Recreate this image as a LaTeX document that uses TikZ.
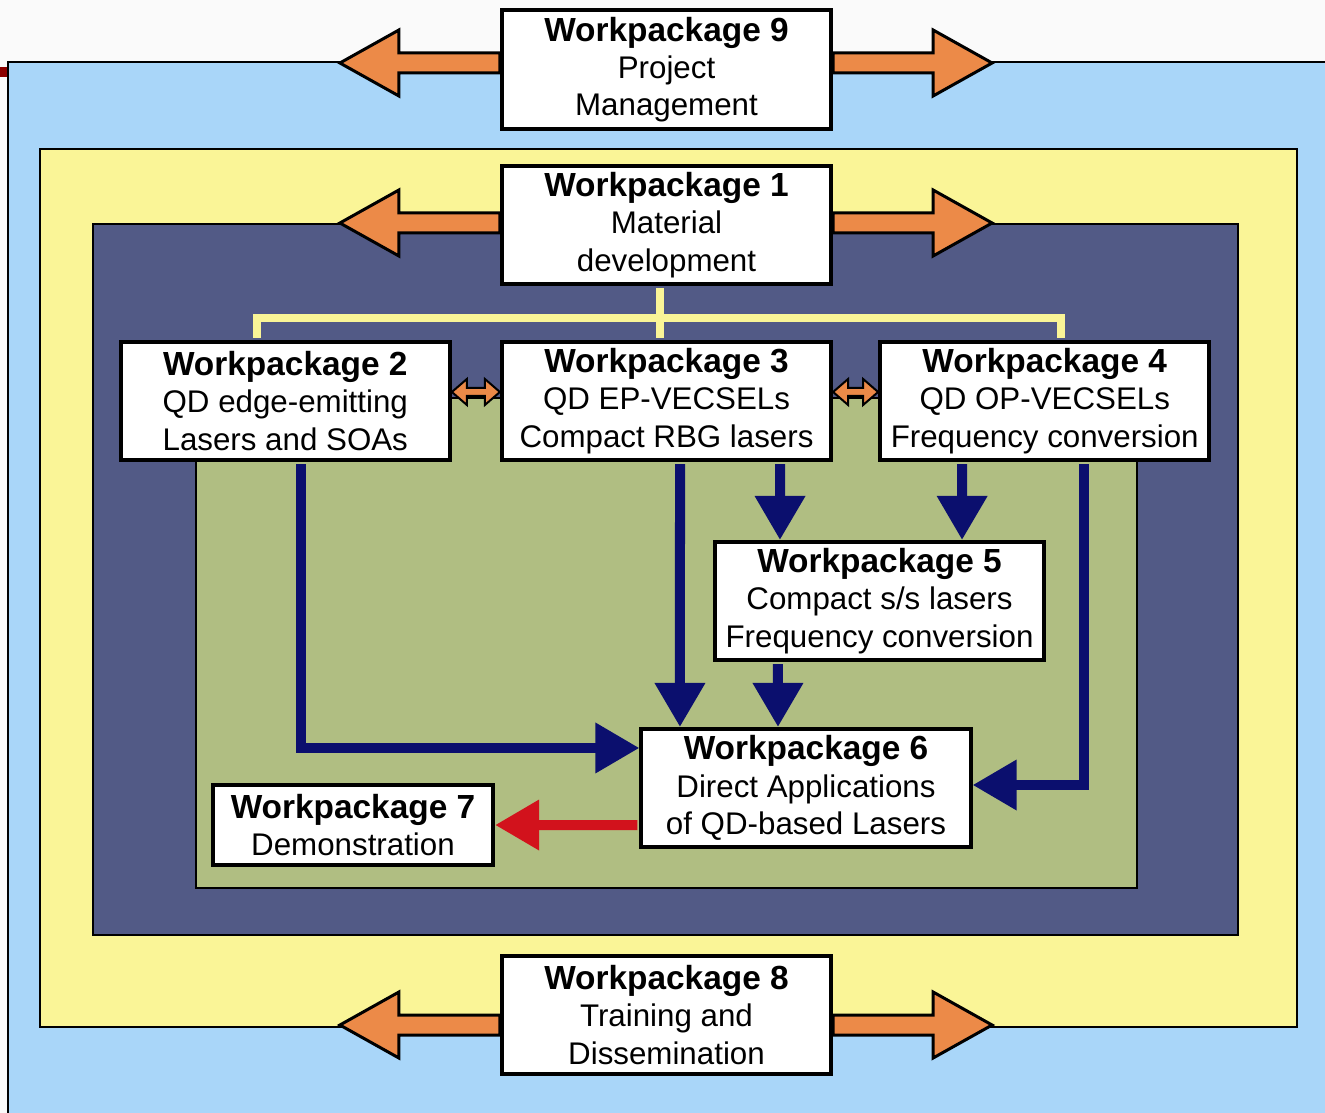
\documentclass[tikz,border=0pt]{standalone}
\usepackage{fontspec}
\setmainfont{Liberation Sans}
\usetikzlibrary{arrows.meta, positioning}
\definecolor{bgGray}{HTML}{FAFAFA}
\definecolor{skyBlue}{HTML}{A9D6F9}
\definecolor{paleYellow}{HTML}{FAF597}
\definecolor{slateBlue}{HTML}{525A86}
\definecolor{oliveGreen}{HTML}{B0BE82}
\definecolor{wpOrange}{HTML}{EC8A48}
\definecolor{navy}{HTML}{0B0F6E}
\definecolor{wpRed}{HTML}{D2121C}
\definecolor{darkRed}{HTML}{8B0000}
\tikzstyle{wpNode} = [rectangle, minimum width=3.29cm, minimum height=1.18cm, align=center, inner sep=1pt, draw=black, line width=0.04cm, fill=white, font=\fontsize{8.9}{10.6}\selectfont]
\tikzstyle{layer} = [draw=black, line width=0.02cm]
\tikzstyle{bigArrow} = [fill=wpOrange, draw=black, line width=0.03cm]
\tikzstyle{arrowB} = [line width=0.1cm, -{Triangle[length=0.44cm,width=0.48cm]}, draw=navy, shorten <=0.02cm]
\tikzstyle{arrowR} = [arrowB, draw=wpRed]
\tikzstyle{linkY} = [line width=0.08cm, draw=paleYellow, shorten <=0.02cm, shorten >=0.02cm]
\newcommand{\wpTitle}[1]{{\fontsize{9.5}{10.6}\selectfont\bfseries #1}}
\newcommand{\arrowLeft}[1]{\draw[bigArrow] (#1) ++(0,-10) -- ++(-101,0) -- ++(0,-23) -- ++(-59,33) -- ++(59,33) -- ++(0,-23) -- ++(101,0) -- cycle;}
\newcommand{\arrowRight}[1]{\draw[bigArrow] (#1) ++(0,-10) -- ++(100,0) -- ++(0,-23) -- ++(59,33) -- ++(-59,33) -- ++(0,-23) -- ++(-100,0) -- cycle;}
\newcommand{\smallArrow}[2]{\draw[bigArrow, line width=0.02cm] (#1) -- ++(15,-13) -- ++(0,9) -- ++(#2,0) -- ++(0,-9) -- ++(15,13) -- ++(-15,13) -- ++(0,-9) -- ++(-#2,0) -- ++(0,9) -- cycle;}
\begin{document}
\begin{tikzpicture}[x=0.01cm, y=-0.01cm, node distance=0.48cm]
        \useasboundingbox (0,0) rectangle (1325,1113);
        \clip (0,0) rectangle (1325,1113);
        \fill[bgGray] (0,0) rectangle (1325,1113);
        \fill[darkRed] (0,67) rectangle (7,77);
        % nested areas
        \draw[layer, fill=skyBlue] (8,62) rectangle (1340,1130);
        \draw[layer, fill=paleYellow] (40,149) rectangle (1297,1027);
        \draw[layer, fill=slateBlue] (93,224) rectangle (1238,935);
        \draw[layer, fill=oliveGreen] (196,398) rectangle (1137,888);
        
        \node (wp9) [wpNode] at (666.5,69.5) {\wpTitle{Workpackage 9}\\Project\\Management};
        \node (wp1) [wpNode] at (666.5,225) {\wpTitle{Workpackage 1}\\Material\\development};
        \node (wp3) [wpNode] at (666.5,401) {\wpTitle{Workpackage 3}\\QD EP-VECSELs\\Compact RBG lasers};
        \node (wp2) [wpNode, left=of wp3] {\wpTitle{Workpackage 2}\\QD edge-emitting\\Lasers and SOAs};
        \node (wp4) [wpNode, right=0.45cm of wp3] {\wpTitle{Workpackage 4}\\QD OP-VECSELs\\Frequency conversion};
        \node (wp5) [wpNode] at (879.5,601) {\wpTitle{Workpackage 5}\\Compact s/s lasers\\Frequency conversion};
        \node (wp6) [wpNode] at (806,788) {\wpTitle{Workpackage 6}\\Direct Applications\\of QD-based Lasers};
        \node (wp7) [wpNode, minimum width=2.8cm, minimum height=0.8cm] at (353,825) {\wpTitle{Workpackage 7}\\Demonstration};
        \node (wp8) [wpNode] at (666.5,1015) {\wpTitle{Workpackage 8}\\Training and\\Dissemination};
        
        \arrowLeft{[yshift=0.065cm]wp9.west}
        \arrowRight{[yshift=0.065cm]wp9.east}
        \arrowLeft{[yshift=0.02cm]wp1.west}
        \arrowRight{[yshift=0.02cm]wp1.east}
        \arrowLeft{[yshift=-0.1cm]wp8.west}
        \arrowRight{[yshift=-0.1cm]wp8.east}
        
        \draw [linkY] ([xshift=-0.28cm]wp2.north) -- ++(0,-22) -| ([xshift=0.16cm]wp4.north);
        \draw [linkY] ([xshift=-0.065cm]wp1.south) -- ([xshift=-0.065cm]wp3.north);
        \smallArrow{[yshift=0.09cm]wp2.east}{18}
        \smallArrow{[yshift=0.09cm]wp3.east}{15}
        
        \draw [arrowB] ([xshift=0.16cm]wp2.south) |- ([yshift=0.4cm]wp6.west);
        \draw [arrowB] ([xshift=0.135cm]wp3.south) -- ([xshift=-1.26cm]wp6.north);
        \draw [arrowB] ([xshift=1.135cm]wp3.south) -- ([xshift=-0.995cm]wp5.north);
        \draw [arrowB] ([xshift=-0.825cm]wp4.south) -- ([xshift=0.825cm]wp5.north);
        \draw [arrowB] ([xshift=-1.015cm]wp5.south) -- ([xshift=-0.28cm]wp6.north);
        \draw [arrowB] ([xshift=0.39cm]wp4.south) |- ([yshift=0.03cm]wp6.east);
        \draw [arrowR] ([yshift=-0.37cm]wp6.west) -- (wp7.east);
    \end{tikzpicture}
\end{document}
